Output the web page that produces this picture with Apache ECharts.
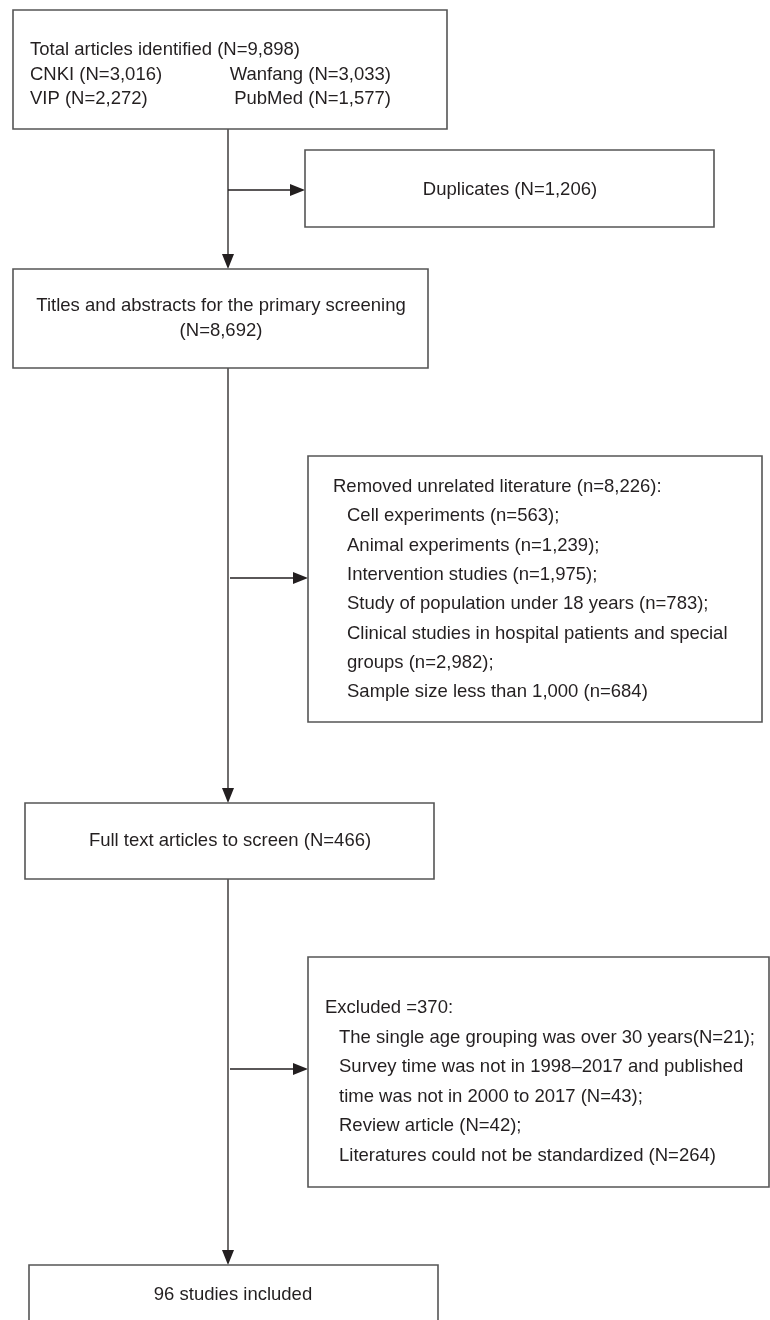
<!DOCTYPE html>
<html><head><meta charset="utf-8">
<script src="https://cdn.jsdelivr.net/npm/echarts@6/dist/echarts.min.js"></script>
<style>html,body{margin:0;padding:0;background:#fff}#c{width:770px;height:1320px}</style>
</head><body><div id="c"></div>
<script>
// ---------------- data ----------------
const totalIdentified = 9898;
const databases = ['CNKI', 'Wanfang', 'VIP', 'PubMed'];
const databaseCounts = [3016, 3033, 2272, 1577];
const duplicates = 1206;
const screened = 8692;
const removedTotal = 8226;
const removedReasons = ['Cell experiments', 'Animal experiments', 'Intervention studies',
  'Study of population under 18 years', 'Clinical studies in hospital patients and special\ngroups',
  'Sample size less than 1,000'];
const removedCounts = [563, 1239, 1975, 783, 2982, 684];
const fullText = 466;
const excludedTotal = 370;
const excludedReasons = ['The single age grouping was over 30 years',
  'Survey time was not in 1998\u20132017 and published\ntime was not in 2000 to 2017',
  'Review article', 'Literatures could not be standardized'];
const excludedJoin = ['', ' ', ' ', ' '];
const excludedCounts = [21, 43, 42, 264];
const included = 96;

// ---------------- formatting ----------------
const fmt = n => String(n).replace(/\B(?=(\d{3})+(?!\d))/g, ',');
const removedText = removedReasons.map((r, i) =>
  `${r} (n=${fmt(removedCounts[i])})${i < removedReasons.length - 1 ? ';' : ''}`).join('\n').split('\n');
const excludedText = excludedReasons.map((r, i) =>
  `${r}${excludedJoin[i]}(N=${fmt(excludedCounts[i])})${i < excludedReasons.length - 1 ? ';' : ''}`).join('\n').split('\n');

// ---------------- layout ----------------
const FONT = '"Liberation Sans", Arial, Helvetica, sans-serif';
const FS = 18.5;
const TEXT_C = '#231f20';
const BOX_C = '#555555';
const LINE_C = '#231f20';
const RL = 29.3; // list line step

const boxes = [
  { rect: [13, 10, 447, 129], lines: [
    { x: 30, y: 50, a: 'left', t: `Total articles identified (N=${fmt(totalIdentified)})` },
    { x: 30, y: 74.5, a: 'left', t: `${databases[0]} (N=${fmt(databaseCounts[0])})` },
    { x: 391, y: 74.5, a: 'right', t: `${databases[1]} (N=${fmt(databaseCounts[1])})` },
    { x: 30, y: 99, a: 'left', t: `${databases[2]} (N=${fmt(databaseCounts[2])})` },
    { x: 391, y: 99, a: 'right', t: `${databases[3]} (N=${fmt(databaseCounts[3])})` }
  ]},
  { rect: [305, 150, 714, 227], lines: [
    { x: 510, y: 190, a: 'center', t: `Duplicates (N=${fmt(duplicates)})` }
  ]},
  { rect: [13, 269, 428, 368], lines: [
    { x: 221, y: 306, a: 'center', t: 'Titles and abstracts for the primary screening' },
    { x: 221, y: 331, a: 'center', t: `(N=${fmt(screened)})` }
  ]},
  { rect: [308, 456, 762, 722], lines: [
    { x: 333, y: 487, a: 'left', t: `Removed unrelated literature (n=${fmt(removedTotal)}):` }
  ].concat(removedText.map((t, i) => ({ x: 347, y: 487 + RL * (i + 1), a: 'left', t })))},
  { rect: [25, 803, 434, 879], lines: [
    { x: 230, y: 841, a: 'center', t: `Full text articles to screen (N=${fmt(fullText)})` }
  ]},
  { rect: [308, 957, 769, 1187], lines: [
    { x: 325, y: 1008, a: 'left', t: `Excluded =${fmt(excludedTotal)}:` }
  ].concat(excludedText.map((t, i) => ({ x: 339, y: 1008 + 29.5 * (i + 1), a: 'left', t })))},
  { rect: [29, 1265, 438, 1345], lines: [
    { x: 233, y: 1295, a: 'center', t: `${included} studies included` }
  ]}
];

const arrows = [
  [228, 129, 228, 269],
  [228, 190, 305, 190],
  [228, 368, 228, 803],
  [230, 578, 308, 578],
  [228, 879, 228, 1265],
  [230, 1069, 308, 1069]
];

// ---------------- chart ----------------
const chart = echarts.init(document.getElementById('c'), null, { renderer: 'canvas' });
chart.setOption({
  animation: false,
  backgroundColor: '#ffffff',
  grid: { left: 0, right: 0, top: 0, bottom: 0 },
  xAxis: { type: 'value', min: 0, max: 770, show: false },
  yAxis: { type: 'value', min: 0, max: 1320, inverse: true, show: false },
  series: [
    {
      type: 'custom', silent: true, clip: false,
      data: arrows.map((a, i) => [i]),
      encode: { x: 0, y: 0 },
      renderItem: (params, api) => {
        const a = arrows[params.dataIndex];
        const p0 = api.coord([a[0], a[1]]);
        const p1 = api.coord([a[2], a[3]]);
        const dx = p1[0] - p0[0], dy = p1[1] - p0[1];
        const len = Math.sqrt(dx * dx + dy * dy);
        const ux = dx / len, uy = dy / len;
        const hl = 15, hw = 6;
        const bx = p1[0] - ux * hl, by = p1[1] - uy * hl;
        return {
          type: 'group',
          children: [
            { type: 'line', shape: { x1: p0[0], y1: p0[1], x2: bx, y2: by },
              style: { stroke: LINE_C, lineWidth: 1.3 } },
            { type: 'polygon', shape: { points: [[p1[0], p1[1]], [bx - uy * hw, by + ux * hw], [bx + uy * hw, by - ux * hw]] },
              style: { fill: LINE_C } }
          ]
        };
      }
    },
    {
      type: 'custom', silent: true, clip: false,
      data: boxes.map((b, i) => [i]),
      encode: { x: 0, y: 0 },
      renderItem: (params, api) => {
        const b = boxes[params.dataIndex];
        const p0 = api.coord([b.rect[0], b.rect[1]]);
        const p1 = api.coord([b.rect[2], b.rect[3]]);
        const children = [{
          type: 'rect',
          shape: { x: p0[0], y: p0[1], width: p1[0] - p0[0], height: p1[1] - p0[1] },
          style: { fill: '#ffffff', stroke: BOX_C, lineWidth: 1.6 }
        }];
        b.lines.forEach(l => {
          const p = api.coord([l.x, l.y]);
          children.push({
            type: 'text',
            style: { x: p[0], y: p[1], text: l.t, fill: TEXT_C, fontSize: FS, fontFamily: FONT,
              align: l.a, verticalAlign: 'middle' }
          });
        });
        return { type: 'group', children };
      }
    }
  ]
});
</script>
</body></html>
